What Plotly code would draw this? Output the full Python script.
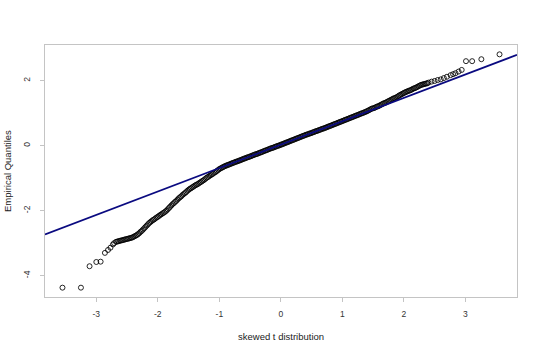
import plotly.graph_objects as go

# Theoretical quantiles (skewed t) and empirical quantiles
theo_q = [
    -3.55, -3.25, -3.11, -3.00, -2.93, -2.86, -2.81, -2.77, -2.73, -2.71,
    -2.68, -2.64, -2.60, -2.56, -2.52, -2.48, -2.44, -2.40, -2.36, -2.32,
    -2.28, -2.24, -2.20, -2.16, -2.12, -2.08, -2.04, -2.00, -1.96, -1.92,
    -1.88, -1.84, -1.80, -1.76, -1.72, -1.68, -1.64, -1.60, -1.56, -1.52,
    -1.48, -1.44, -1.40, -1.36, -1.32, -1.28, -1.24, -1.20, -1.16, -1.12,
    -1.08, -1.04, -1.00, -0.96,
    -0.92, -0.88, -0.84, -0.80, -0.76, -0.72, -0.68, -0.64, -0.60, -0.56,
    -0.52, -0.48, -0.44, -0.40, -0.36, -0.32, -0.28, -0.24, -0.20, -0.16,
    -0.12, -0.08, -0.04, 0.00, 0.04, 0.08, 0.12, 0.16, 0.20, 0.24,
    0.28, 0.32, 0.36, 0.40, 0.44, 0.48, 0.52, 0.56, 0.60, 0.64,
    0.68, 0.72, 0.76, 0.80, 0.84, 0.88, 0.92, 0.96, 1.00, 1.04,
    1.08, 1.12, 1.16, 1.20, 1.24, 1.28, 1.32, 1.36, 1.40,
    1.44, 1.48, 1.52, 1.56, 1.60, 1.64, 1.68, 1.72, 1.76, 1.80,
    1.84, 1.88, 1.92, 1.96, 2.00, 2.04, 2.08, 2.12, 2.16, 2.20,
    2.24, 2.28, 2.32, 2.36, 2.40,
    2.45, 2.50, 2.55, 2.60, 2.65, 2.70, 2.76, 2.80, 2.84, 2.89,
    2.94, 3.01, 3.11, 3.26, 3.555,
]
emp_q = [
    -4.37, -4.37, -3.71, -3.58, -3.57, -3.30, -3.21, -3.14, -3.04, -3.00,
    -2.96, -2.94, -2.92, -2.90, -2.88, -2.86, -2.84, -2.81, -2.77, -2.72,
    -2.65, -2.58, -2.50, -2.42, -2.35, -2.29, -2.24, -2.19, -2.13, -2.08,
    -2.03, -1.96, -1.88, -1.80, -1.73, -1.66, -1.59, -1.52, -1.46, -1.39,
    -1.33, -1.28, -1.23, -1.19, -1.14, -1.09, -1.04, -0.98, -0.93, -0.88,
    -0.83, -0.78, -0.72, -0.68,
    -0.64, -0.61, -0.58, -0.55, -0.52, -0.49, -0.46, -0.43, -0.40, -0.37,
    -0.35, -0.32, -0.29, -0.26, -0.23, -0.20, -0.17, -0.14, -0.11, -0.08,
    -0.06, -0.03, 0.00, 0.03, 0.06, 0.09, 0.12, 0.15, 0.18, 0.21,
    0.24, 0.27, 0.30, 0.33, 0.35, 0.38, 0.41, 0.44, 0.46, 0.49,
    0.52, 0.55, 0.58, 0.61, 0.64, 0.67, 0.70, 0.73, 0.76, 0.79,
    0.82, 0.85, 0.88, 0.91, 0.94, 0.97, 1.00, 1.03, 1.06,
    1.10, 1.14, 1.16, 1.20, 1.23, 1.27, 1.31, 1.34, 1.38, 1.42,
    1.46, 1.49, 1.54, 1.58, 1.62, 1.66, 1.69, 1.72, 1.76, 1.79,
    1.83, 1.87, 1.89, 1.91, 1.94,
    1.97, 1.99, 2.02, 2.04, 2.08, 2.12, 2.17, 2.20, 2.23, 2.28,
    2.33, 2.60, 2.60, 2.66, 2.81,
]

theo_q_dense = [
    -2.66, -2.62, -2.58, -2.54, -2.50, -2.46, -2.42, -2.38, -2.34, -2.30,
    -2.26, -2.22, -2.18, -2.14, -2.10, -2.06, -2.02, -1.98, -1.94, -1.90,
    -1.86, -1.82, -1.78, -1.74, -1.70, -1.66, -1.62, -1.58, -1.54, -1.50,
    -1.46, -1.42, -1.38, -1.34, -1.30, -1.26, -1.22, -1.18, -1.14, -1.10,
    -1.06, -1.02, -0.98, -0.94,
    -0.90, -0.86, -0.82, -0.78, -0.74, -0.70, -0.66, -0.62, -0.58, -0.54,
    -0.50, -0.46, -0.42, -0.38, -0.34, -0.30, -0.26, -0.22, -0.18, -0.14,
    -0.10, -0.06, -0.02, 0.02, 0.06, 0.10, 0.14, 0.18, 0.22, 0.26,
    0.30, 0.34, 0.38, 0.42, 0.46, 0.50, 0.54, 0.58, 0.62, 0.66,
    0.70, 0.74, 0.78, 0.82, 0.86, 0.90, 0.94, 0.98, 1.02, 1.06,
    1.10, 1.14, 1.18, 1.22, 1.26, 1.30, 1.34, 1.38,
    1.42, 1.46, 1.50, 1.54, 1.58, 1.62, 1.66, 1.70, 1.74, 1.78,
    1.82, 1.86, 1.90, 1.94, 1.98, 2.02, 2.06, 2.10, 2.14, 2.18,
    2.22, 2.26, 2.30, 2.34, 2.38,
]
emp_q_dense = [
    -2.95, -2.93, -2.91, -2.89, -2.87, -2.85, -2.83, -2.79, -2.75, -2.69,
    -2.62, -2.54, -2.46, -2.38, -2.32, -2.27, -2.21, -2.16, -2.11, -2.06,
    -2.00, -1.92, -1.84, -1.77, -1.70, -1.62, -1.56, -1.49, -1.43, -1.36,
    -1.31, -1.26, -1.21, -1.17, -1.12, -1.07, -1.01, -0.96, -0.91, -0.86,
    -0.81, -0.75, -0.70, -0.66,
    -0.62, -0.59, -0.56, -0.53, -0.50, -0.48, -0.45, -0.42, -0.39, -0.36,
    -0.33, -0.30, -0.27, -0.25, -0.22, -0.19, -0.16, -0.13, -0.10, -0.07,
    -0.04, -0.01, 0.01, 0.04, 0.07, 0.10, 0.13, 0.16, 0.19, 0.22,
    0.25, 0.28, 0.31, 0.34, 0.37, 0.39, 0.42, 0.45, 0.48, 0.51,
    0.53, 0.56, 0.59, 0.62, 0.65, 0.68, 0.71, 0.74, 0.77, 0.80,
    0.83, 0.86, 0.89, 0.92, 0.95, 0.98, 1.01, 1.04,
    1.08, 1.12, 1.15, 1.18, 1.21, 1.25, 1.29, 1.32, 1.36, 1.40,
    1.44, 1.47, 1.51, 1.56, 1.60, 1.64, 1.67, 1.70, 1.74, 1.77,
    1.81, 1.85, 1.88, 1.90, 1.92,
]

# Reference line (qqline)
line_intercept = 0.03
line_slope = 0.72

x_ticks = [-3, -2, -1, 0, 1, 2, 3]
y_ticks = [-4, -2, 0, 2]
x_title = "skewed t distribution"
y_title = "Empirical Quantiles"

all_x = theo_q + theo_q_dense
all_y = emp_q + emp_q_dense

# Axis ranges with R-style 4% padding
xmin, xmax = min(all_x), max(all_x)
ymin, ymax = min(all_y), max(all_y)
xpad = (xmax - xmin) * 0.04
ypad = (ymax - ymin) * 0.04
xr = [xmin - xpad, xmax + xpad]
yr = [ymin - ypad, ymax + ypad]

fig = go.Figure()
fig.add_trace(go.Scatter(
    x=all_x, y=all_y, mode="markers",
    marker=dict(symbol="circle-open", size=5, color="black",
                line=dict(width=0.85, color="black")),
    showlegend=False, hoverinfo="skip",
))
fig.add_trace(go.Scatter(
    x=xr, y=[line_intercept + line_slope * v for v in xr], mode="lines",
    line=dict(color="#0a0a80", width=1.8),
    showlegend=False, hoverinfo="skip",
))

axis_common = dict(
    showgrid=False, zeroline=False, automargin=False,
    showline=True, linecolor="#c4c4c4", linewidth=1, mirror=True,
    ticks="outside", ticklen=4, tickcolor="#c4c4c4", tickwidth=1,
    tickfont=dict(family="Liberation Sans, Arial, sans-serif", size=8.5, color="#333333"),
)

fig.update_layout(
    width=540, height=353,
    margin=dict(l=45, r=23, t=45, b=56),
    paper_bgcolor="white", plot_bgcolor="white",
    font=dict(family="Liberation Sans, Arial, sans-serif", color="#222222"),
    xaxis=dict(range=xr, tickvals=x_ticks, ticktext=[str(t) for t in x_ticks],
               ticklabelstandoff=5, **axis_common),
    yaxis=dict(range=yr, tickvals=y_ticks, ticktext=[str(t) for t in y_ticks],
               tickangle=-90, ticklabelstandoff=7, **axis_common),
    annotations=[
        dict(text=x_title, xref="paper", yref="paper", x=0.5, y=0,
             yshift=-39, xanchor="center", yanchor="middle", showarrow=False,
             font=dict(size=9.5, color="#222222")),
        dict(text=y_title, xref="paper", yref="paper", x=0, y=0.5,
             xshift=-38, xanchor="center", yanchor="middle", showarrow=False,
             textangle=-90, font=dict(size=9.5, color="#222222")),
    ],
)

fig.write_html("out.html")
